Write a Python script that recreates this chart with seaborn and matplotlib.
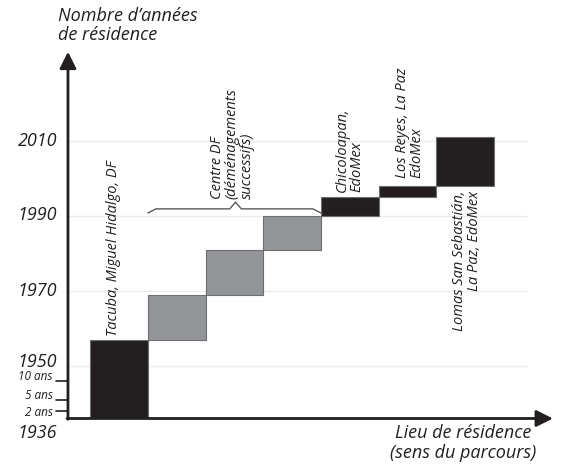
import matplotlib
matplotlib.use("Agg")
import matplotlib.pyplot as plt
import pandas as pd
import seaborn as sns

sns.set_style("white")
plt.rcParams['font.family'] = ['Open Sans', 'DejaVu Sans']

# lieux de residence (ordre du parcours) et annees
lieux = ["Tacuba", "Centre DF 1", "Centre DF 2", "Centre DF 3",
         "Chicoloapan", "Los Reyes", "Lomas San Sebastian"]
debut = [1936, 1957, 1969, 1981, 1990, 1995, 1998]
fin = [1957, 1969, 1981, 1990, 1995, 1998, 2011]
gris = [False, True, True, True, False, False, False]

annees_grille = [1950, 1970, 1990, 2010]
annees_labels = ["1936", "1950", "1970", "1990", "2010"]
ans_ticks = [2, 5, 10]

df = pd.DataFrame({"lieu": lieux, "debut": debut, "fin": fin, "gris": gris})
df["pos"] = range(len(df))
df["duree"] = df["fin"] - df["debut"]

noir = "#231f20"
gris_c = "#939598"
txt = "#231f20"

fig = plt.figure(figsize=(5.64, 4.72), dpi=100)
ax = fig.add_axes([0, 0, 1, 1])

# grille legere
for a in annees_grille:
    ax.plot([-0.88, 7.07], [a, a], color="#ececec", lw=1, zorder=0)

# blocs
for est_gris, col in [(False, noir), (True, gris_c)]:
    sub = df[df["gris"] == est_gris].sort_values("pos")
    sns.barplot(data=sub, x="pos", y="duree", bottom=sub["debut"].values,
                native_scale=True, width=1.0, color=col, saturation=1,
                errorbar=None, edgecolor="#6d6e71", linewidth=0.8, ax=ax, zorder=2)

ax.set_xlim(-2.062, 7.712)
ax.set_ylim(1921.73, 2047.6)
ax.axis("off")

# axes avec fleches
fleche = dict(arrowstyle="-|>,head_length=1.0,head_width=0.5",
              lw=2, color=noir, shrinkA=0, shrinkB=0)
ax.annotate("", xy=(-0.884, 2033.8), xytext=(-0.884, 1935.8),
            arrowprops=fleche, zorder=3)
ax.annotate("", xy=(7.52, 1936), xytext=(-0.90, 1936),
            arrowprops=fleche, zorder=3)

# etiquettes des annees
lab_y = [1932, 1951, 1970, 1990.3, 2010]
for lab, yy in zip(annees_labels, lab_y):
    ax.text(-1.075, yy, lab, ha="right", va="center", fontsize=13,
            style="italic", color=txt)

ans_decal = {2: -0.4, 5: 1.2, 10: 1.2}
for n in ans_ticks:
    ax.plot([-1.09, -0.89], [1936 + n, 1936 + n], color=noir, lw=1.2)
    ax.text(-1.15, 1936 + n + ans_decal[n], f"{n} ans", ha="right", va="center",
            fontsize=8.5, style="italic", color=txt)

# accolade Centre DF
bx = [0.50, 0.64, 1.92, 2.02, 2.12, 3.36, 3.50]
by = [1990.8, 1991.9, 1991.9, 1993.7, 1991.9, 1991.9, 1990.8]
ax.plot(bx, by, color="#58595b", lw=1)

kw = dict(rotation=90, fontsize=10.5, style="italic", color=txt,
          linespacing=1.0)
ax.text(-0.10, 1958, "Tacuba, Miguel Hidalgo, DF", ha="center", va="bottom", **kw)
ax.text(1.96, 1994.6, "Centre DF\n(déménagements\nsuccessifs)", ha="center",
        va="bottom", multialignment="left", **kw)
ax.text(4.0, 1996.4, "Chicoloapan,\nEdoMex", ha="center", va="bottom",
        multialignment="left", **kw)
ax.text(5.04, 2000.1, "Los Reyes, La Paz\nEdoMex", ha="center", va="bottom",
        multialignment="left", **kw)
ax.text(6.03, 1996.8, "Lomas San Sebastián,\nLa Paz, EdoMex", ha="center",
        va="top", multialignment="right", **kw)

# titres des axes
ax.text(-1.057, 2045.8, "Nombre d’années\nde résidence", ha="left", va="top",
        fontsize=13, style="italic", color=txt, linespacing=1.1)
ax.text(5.96, 1934.4, "Lieu de résidence\n(sens du parcours)", ha="center",
        va="top", fontsize=13, style="italic", color=txt, linespacing=1.1,
        multialignment="center")

fig.savefig("out.png", dpi=100)
